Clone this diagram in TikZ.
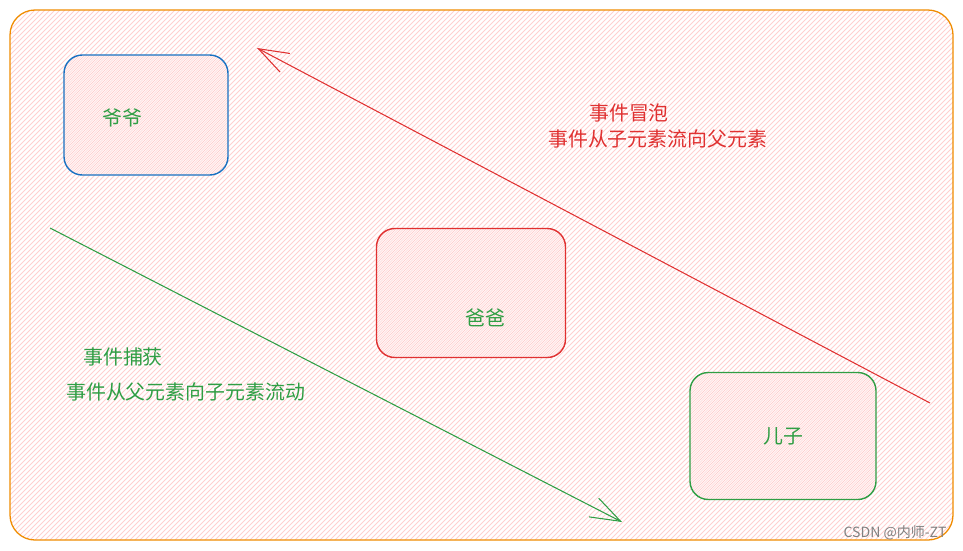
\documentclass[tikz,border=0pt]{standalone}
\usepackage{fontspec}
\newfontfamily\cjk{Noto Sans CJK SC}
\usepackage{xcolor}
\usetikzlibrary{arrows.meta}
\usetikzlibrary{positioning}

\definecolor{frameorange}{HTML}{F08C00}
\definecolor{hatchpink}{HTML}{FFD0D0}
\definecolor{yeyeblue}{HTML}{1971C2}
\definecolor{bubblered}{HTML}{E03131}
\definecolor{capturegreen}{HTML}{2F9E44}

\begin{document}
\begin{tikzpicture}[x=0.03cm, y=-0.03cm,
    hatch/.style={hatchpink, line width=0.8pt},
    box/.style={inner sep=0pt, outer sep=0pt},
    boxline/.style={line width=1.2pt, rounded corners=0.55cm},
    lbl/.style={font=\cjk\fontsize{17}{20}\selectfont, inner sep=0pt},
    flow/.style={line width=0.9pt, -{Straight Barb[length=0.9cm, width=0.63cm]}}]

      \useasboundingbox (0,0) rectangle (963,550);

      % hatched background
      \begin{scope}
        \clip [rounded corners=0.75cm] (10,10) rectangle (953,540);
        \foreach \i in {-545,-540,...,960}
          \draw [hatch] (\i,545) -- ++(540,-540);
      \end{scope}
      \draw [frameorange, line width=1.1pt, rounded corners=0.75cm] (10,10) rectangle (953,540);

      % the three boxes
      \node [box, minimum width=4.92cm, minimum height=3.6cm] (yeye) at (146,115) {};
      \node [box, minimum width=5.67cm, minimum height=3.87cm] (baba) at (471,293) {};
      \node [box, minimum width=5.58cm, minimum height=3.81cm] (erzi) at (783,436) {};

      % second hatch inside the boxes
      \foreach \b in {yeye, baba, erzi} {
        \begin{scope}
          \clip [rounded corners=0.55cm] (\b.south west) rectangle (\b.north east);
          \foreach \i in {-542.5,-537.5,...,960}
            \draw [hatch, hatchpink!70] (\i,545) -- ++(540,-540);
        \end{scope}
      }
      \draw [boxline, yeyeblue] (yeye.south west) rectangle (yeye.north east);
      \draw [boxline, bubblered] (baba.south west) rectangle (baba.north east);
      \draw [boxline, capturegreen] (erzi.south west) rectangle (erzi.north east);

      \node [lbl, text=capturegreen] (yeyetext) at ([shift={(-24,3)}]yeye.center) {爷爷};
      \node [lbl, text=capturegreen] (babatext) at ([shift={(14,25)}]baba.center) {爸爸};
      \node [lbl, text=capturegreen] (erzitext) at (erzi.center) {儿子};

      % bubbling
      \coordinate (bubblestart) at (930,403);
      \coordinate (bubbleend) at (257,48);
      \draw [flow, bubblered] (bubblestart) -- (bubbleend);
      \node [lbl, text=bubblered, anchor=west] (bubbletitle) at (589,113) {事件冒泡};
      \node [lbl, text=bubblered, anchor=west] (bubbletext) at (548,139) {事件从子元素流向父元素};

      % capturing
      \coordinate (capturestart) at (50,228);
      \coordinate (captureend) at (622,522);
      \draw [flow, capturegreen] (capturestart) -- (captureend);
      \node [lbl, text=capturegreen, anchor=west] (capturetitle) at (83,357) {事件捕获};
      \node [lbl, text=capturegreen, anchor=west] (capturetext) at (66,392) {事件从父元素向子元素流动};

      \node [font=\cjk\fontsize{12}{14}\selectfont, text=gray, inner sep=0pt] (mark) at (895,533) {CSDN @内师-ZT};

\end{tikzpicture}
\end{document}
